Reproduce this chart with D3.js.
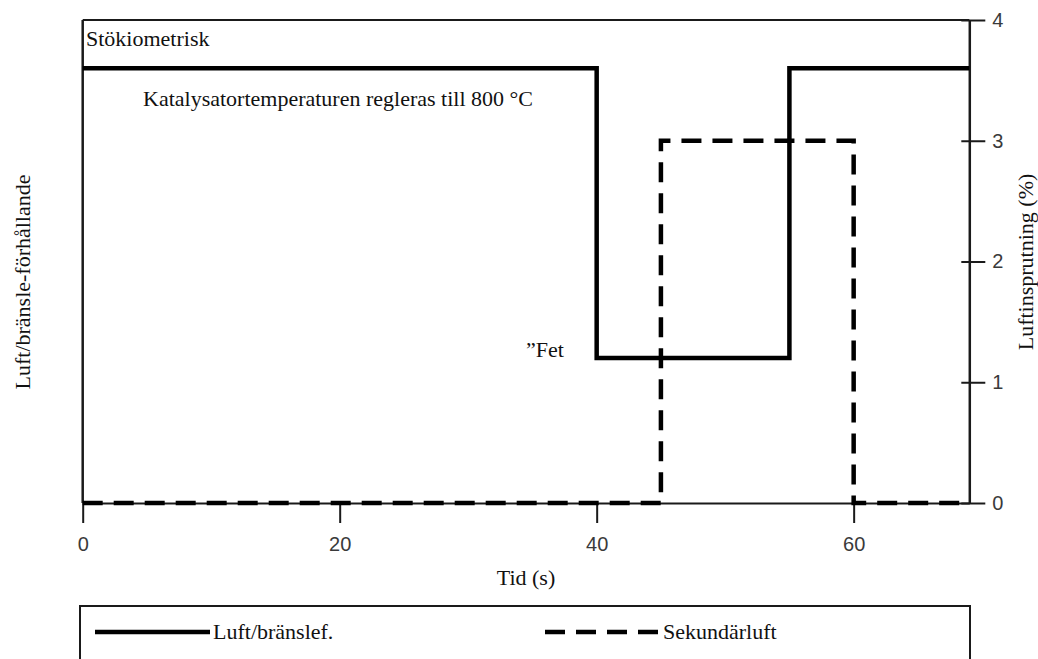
<!DOCTYPE html>
<html>
<head>
<meta charset="utf-8">
<script src="https://cdn.jsdelivr.net/npm/d3@7"></script>
<style>
  html, body { margin: 0; padding: 0; background: #fff; }
  svg { display: block; }
  .serif { font-family: "Liberation Serif", "Times New Roman", serif; fill: #111; }
</style>
</head>
<body>
<svg id="chart" width="1038" height="659"></svg>
<script>
// Time breakpoints (s) and levels for the air/fuel ratio trace (plotted on the right-hand scale)
const afrTime = [0, 40, 40, 55, 55, 69];
const afrLevel = [3.6, 3.6, 1.2, 1.2, 3.6, 3.6];

// Secondary air injection (%)
const airTime = [0, 45, 45, 60, 60, 69];
const airLevel = [0, 0, 3, 3, 0, 0];

const xTicks = [0, 20, 40, 60];
const yTicks = [0, 1, 2, 3, 4];
const xDomain = [0, 69];
const yDomain = [0, 4];

const svg = d3.select("#chart");
const x = d3.scaleLinear().domain(xDomain).range([82.7, 969.3]);
const y = d3.scaleLinear().domain(yDomain).range([503, 20]);

const ink = "#1a1a1a";
const serifSize = 22;

// Frame: top and left edges
svg.append("line")
  .attr("x1", x(0)).attr("x2", x(69))
  .attr("y1", y(4)).attr("y2", y(4))
  .attr("stroke", ink).attr("stroke-width", 2);
svg.append("line")
  .attr("x1", x(0)).attr("x2", x(0))
  .attr("y1", y(4)).attr("y2", y(0))
  .attr("stroke", ink).attr("stroke-width", 2.5);

// Bottom time axis
const xAxis = svg.append("g")
  .attr("transform", `translate(0,${y(0)})`)
  .call(d3.axisBottom(x).tickValues(xTicks).tickFormat(d3.format("d"))
    .tickSize(20).tickSizeOuter(0).tickPadding(14));
xAxis.select(".domain").attr("stroke", ink).attr("stroke-width", 2);
xAxis.selectAll(".tick line").attr("stroke", ink).attr("stroke-width", 2);

// Right axis: secondary air (%), ticks cross the axis line
const yAxis = svg.append("g")
  .attr("transform", `translate(${x(69)},0)`)
  .call(d3.axisRight(y).tickValues(yTicks).tickFormat(d3.format("d"))
    .tickSize(16).tickSizeOuter(0).tickPadding(7));
yAxis.select(".domain").attr("stroke", ink).attr("stroke-width", 2.5);
yAxis.selectAll(".tick line").attr("x1", -8).attr("stroke", ink).attr("stroke-width", 2);

svg.selectAll(".tick text")
  .attr("font-family", "'Liberation Sans', Arial, sans-serif")
  .attr("font-size", 20)
  .attr("fill", "#3a3a3a");

// Data traces
const line = d3.line().x(d => x(d[0])).y(d => y(d[1])).curve(d3.curveLinear);

svg.append("path")
  .datum(airTime.map((t, i) => [t, airLevel[i]]))
  .attr("d", line)
  .attr("fill", "none")
  .attr("stroke", "#000")
  .attr("stroke-width", 4.5)
  .attr("stroke-dasharray", "20,11");

svg.append("path")
  .datum(afrTime.map((t, i) => [t, afrLevel[i]]))
  .attr("d", line)
  .attr("fill", "none")
  .attr("stroke", "#000")
  .attr("stroke-width", 4.5)
  .attr("stroke-linejoin", "miter");

// Annotations
svg.append("text").attr("class", "serif").attr("font-size", serifSize)
  .attr("x", 86).attr("y", 46).text("Stökiometrisk");
svg.append("text").attr("class", "serif").attr("font-size", serifSize)
  .attr("x", 143).attr("y", 106).text("Katalysatortemperaturen regleras till 800 °C");
svg.append("text").attr("class", "serif").attr("font-size", serifSize)
  .attr("x", 564).attr("y", 357).attr("text-anchor", "end").text("”Fet");

// Axis titles
svg.append("text").attr("class", "serif").attr("font-size", serifSize)
  .attr("x", (x(0) + x(69)) / 2).attr("y", 585).attr("text-anchor", "middle").text("Tid (s)");
svg.append("text").attr("class", "serif").attr("font-size", serifSize)
  .attr("transform", "translate(30,282) rotate(-90)")
  .attr("text-anchor", "middle").text("Luft/bränsle-förhållande");
svg.append("text").attr("class", "serif").attr("font-size", serifSize)
  .attr("transform", "translate(1033,262) rotate(-90)")
  .attr("text-anchor", "middle").text("Luftinsprutning (%)");

// Legend
const legend = svg.append("g");
legend.append("rect")
  .attr("x", 80).attr("y", 606).attr("width", 890).attr("height", 90)
  .attr("fill", "none").attr("stroke", ink).attr("stroke-width", 2);
const legendItems = [
  { label: "Luft/bränslef.", dash: null, x0: 95, x1: 210 },
  { label: "Sekundärluft", dash: "20,11", x0: 545, x1: 660 }
];
legendItems.forEach(it => {
  legend.append("line")
    .attr("x1", it.x0).attr("x2", it.x1).attr("y1", 632).attr("y2", 632)
    .attr("stroke", "#000").attr("stroke-width", 4.5)
    .attr("stroke-dasharray", it.dash);
  legend.append("text").attr("class", "serif").attr("font-size", serifSize)
    .attr("x", it.x1 + 3).attr("y", 639).text(it.label);
});
</script>
</body>
</html>
